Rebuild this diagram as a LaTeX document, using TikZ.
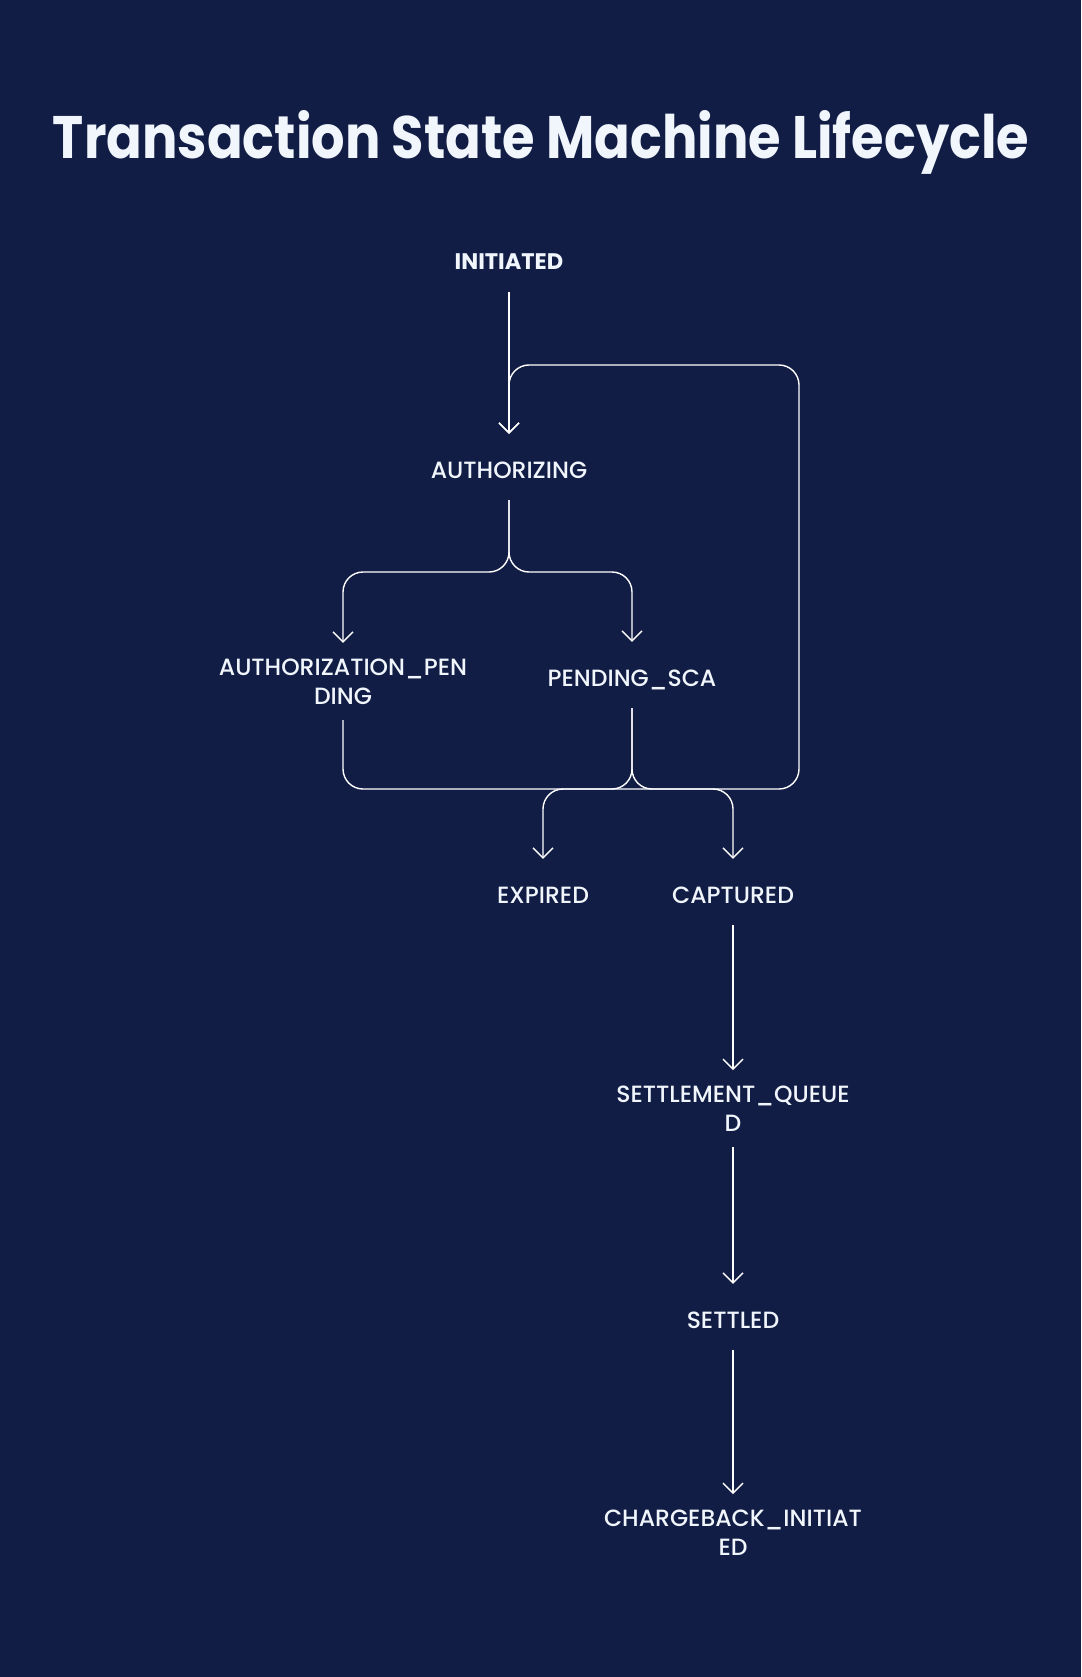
\documentclass[tikz,border=0pt]{standalone}
\usepackage{fontspec}
\setmainfont{Poppins}
\newfontfamily\lblfont{Poppins Medium}
\usetikzlibrary{arrows.meta}
\definecolor{navy}{HTML}{121D45}
\definecolor{ink}{HTML}{F0F6FC}
\tikzset{
  statebox/.style={inner xsep=0pt,inner ysep=22pt,text height=22pt,text depth=0pt,anchor=base,
    text=ink,font=\lblfont\fontsize{23.5pt}{29pt}\selectfont},
  statebox2/.style={inner xsep=0pt,inner ysep=15.5pt,align=center,
    text=ink,font=\lblfont\fontsize{23.5pt}{29pt}\selectfont},
  flow/.style={draw=white,line width=1.4pt,rounded corners=20pt,-{Straight Barb[length=10pt,width=20pt]}}
}
\begin{document}
\begin{tikzpicture}[x=1pt,y=-1pt]
\fill[navy] (0,0) rectangle (1081,1677);
\node[anchor=base,text=ink,inner sep=0pt] (ttl) at (541,159)
  {\resizebox{976pt}{48pt}{\bfseries Transaction State Machine Lifecycle}};

\node[statebox,font=\bfseries\fontsize{22.5pt}{29pt}\selectfont] (init) at (509,270) {INITIATED};
\node[statebox] (auth) at (509,478) {AUTHORIZING};
\node[statebox2] (apend) at (343,681.5) {AUTHORIZATION\_PEN\\DING};
\node[statebox] (psca) at (632,686) {PENDING\_SCA};
\node[statebox] (expd) at (543,903) {EXPIRED};
\node[statebox] (capt) at (733,903) {CAPTURED};
\node[statebox2] (sque) at (733,1108.5) {SETTLEMENT\_QUEUE\\D};
\node[statebox] (setl) at (733,1328) {SETTLED};
\node[statebox2] (cbk) at (733,1532.5) {CHARGEBACK\_INITIAT\\ED};

\coordinate (fork) at (509,572);
\coordinate (join) at (632,789);
\coordinate (loopb) at (799,789);
\coordinate (loopt) at (799,365);

\draw[flow] (init) -- (auth);
\draw[flow] (auth) -- (fork) -| (apend);
\draw[flow] (auth) -- (fork) -| (psca);
\draw[flow] (apend) |- (join) -| (capt);
\draw[flow] (psca) -- (join) -| (expd);
\draw[flow] (psca) -- (join) -- (loopb) -- (loopt) -| (auth);
\draw[flow] (capt) -- (sque);
\draw[flow] (sque) -- (setl);
\draw[flow] (setl) -- (cbk);
\end{tikzpicture}
\end{document}
